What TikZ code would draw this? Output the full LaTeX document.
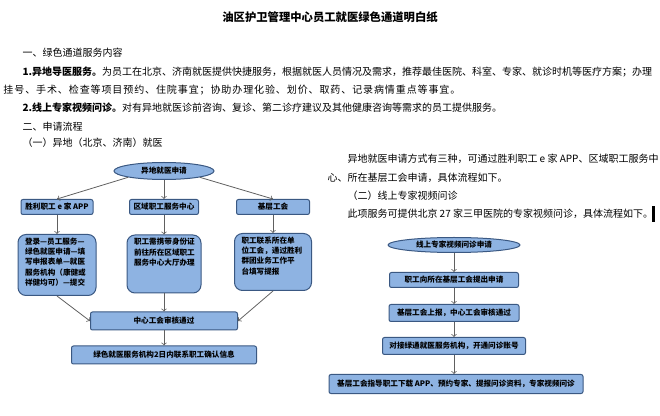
\documentclass[tikz,border=0pt]{standalone}
\usepackage{fontspec}
\setmainfont{Noto Sans CJK SC}
\newfontfamily\widecjk{Noto Sans CJK SC}[LetterSpace=9]
\usetikzlibrary{shapes.geometric}

\definecolor{boxfill}{RGB}{142,179,226}
\definecolor{boxline}{RGB}{58,88,130}
\definecolor{arrowgray}{RGB}{96,96,96}

\newcommand{\cellbox}[3]{\parbox[c][#2][t]{#1}{\raggedright #3}}

\tikzset{every picture/.style={line width=0.75pt}}
\tikzset{
	bodytext/.style={anchor=west, inner sep=0pt, font=\fontsize{7.5pt}{9pt}\selectfont},
	flowbox/.style={draw=boxline, fill=boxfill, rounded corners=1.5pt, inner sep=0pt,
		font=\fontsize{5.7pt}{7.7pt}\selectfont\bfseries},
	roundbox/.style={flowbox, rounded corners=6pt, inner xsep=5.25pt, inner ysep=2.5pt},
	flowell/.style={ellipse, draw=boxline, fill=boxfill, inner sep=0pt,
		font=\fontsize{5.7pt}{7.7pt}\selectfont\bfseries},
	flowarrow/.style={draw=arrowgray, line width=0.6pt, ->}
}

\begin{document}
\begin{tikzpicture}[x=0.75pt,y=0.75pt,yscale=-1,xscale=1]
	\useasboundingbox (0,0) rectangle (660,416);

	% Text Node
	\node[font=\fontsize{8.5pt}{10pt}\selectfont\bfseries, inner sep=0pt] (title) at (330,17) {油区护卫管理中心员工就医绿色通道明白纸};
	% Text Node
	\node[bodytext] (headA) at (22,53) {一、绿色通道服务内容};
	% Text Node
	\node[bodytext] (parA) at (22,72) {\textbf{1.异地导医服务。}为员工在北京、济南就医提供快捷服务，根据就医人员情况及需求，推荐最佳医院、科室、专家、就诊时机等医疗方案；办理};
	% Text Node
	\node[bodytext] (parB) at (3,90) {\widecjk 挂号、手术、检查等项目预约、住院事宜；协助办理化验、划价、取药、记录病情重点等事宜。};
	% Text Node
	\node[bodytext] (parC) at (22,108) {\textbf{2.线上专家视频问诊。}对有异地就医诊前咨询、复诊、第二诊疗建议及其他健康咨询等需求的员工提供服务。};
	% Text Node
	\node[bodytext] (headB) at (22,127) {二、申请流程};
	% Text Node
	\node[bodytext] (headC) at (22,143) {（一）异地（北京、济南）就医};

	% Text Node
	\node[bodytext] (noteA) at (347,159) {异地就医申请方式有三种，可通过胜利职工 e 家 APP、区域职工服务中};
	% Text Node
	\node[bodytext] (noteB) at (327,178) {心、所在基层工会申请，具体流程如下。};
	% Text Node
	\node[bodytext] (headD) at (347,196) {（二）线上专家视频问诊};
	% Text Node
	\node[bodytext] (noteC) at (347,214) {此项服务可提供北京 27 家三甲医院的专家视频问诊，具体流程如下。};
	%Shape: Rectangle (cursor)
	\fill (652,206) rectangle (654.5,222);

	%Flowchart: left
	\node[flowell, minimum width=75pt, minimum height=12.75pt] (apply) at (164,171) {异地就医申请};
	\node[flowbox, minimum width=54pt, minimum height=11.25pt] (app) at (57,207) {胜利职工 e 家 APP};
	\node[flowbox, minimum width=51.75pt, minimum height=11.25pt] (hall) at (164,207) {区域职工服务中心};
	\node[flowbox, minimum width=54.75pt, minimum height=11.25pt] (union) at (273,207) {基层工会};
	\node[roundbox] (appsteps) at (57,265) {\cellbox{48pt}{40.75pt}{登录—员工服务—\\绿色就医申请—填\\写申报表单—就医\\服务机构（康健或\\祥健均可）—提交}};
	\node[roundbox] (hallsteps) at (164,264) {\cellbox{45pt}{38.5pt}{职工需携带身份证\\前往所在区域职工\\服务中心大厅办理}};
	\node[roundbox] (unionsteps) at (273,262) {\cellbox{47.25pt}{37.75pt}{职工联系所在单\\位工会，通过胜利\\群团业务工作平\\台填写提报}};
	\node[flowbox, minimum width=110.25pt, minimum height=13.5pt] (check) at (164,321) {中心工会审核通过};
	\node[flowbox, minimum width=138.75pt, minimum height=13.5pt] (contact) at (164,355) {绿色就医服务机构2日内联系职工确认信息};

	%Straight Lines
	\draw[flowarrow] (apply.190) -- (app.north);
	\draw[flowarrow] (apply.south) -- (hall.north);
	\draw[flowarrow] (apply.-10) -- (union.north);
	\draw[flowarrow] (app.south) -- (appsteps.north);
	\draw[flowarrow] (hall.south) -- (hallsteps.north);
	\draw[flowarrow] (union.south) -- (unionsteps.north);
	\draw[flowarrow] (appsteps.south) -- (check.west);
	\draw[flowarrow] (hallsteps.south) -- (check.north);
	\draw[flowarrow] (unionsteps.south) -- (check.east);
	\draw[flowarrow] (check.south) -- (contact.north);

	%Flowchart: right
	\node[flowell, minimum width=99pt, minimum height=11.25pt] (video) at (454,245) {线上专家视频问诊申请};
	\node[flowbox, minimum width=96.75pt, minimum height=11.25pt] (request) at (454,280) {职工向所在基层工会提出申请};
	\node[flowbox, minimum width=97.5pt, minimum height=12.75pt] (report) at (454,313) {基层工会上报，中心工会审核通过};
	\node[flowbox, minimum width=107.25pt, minimum height=12.75pt] (account) at (454,346) {对接绿通就医服务机构，开通问诊账号};
	\node[flowbox, minimum width=190.5pt, minimum height=14.25pt] (guide) at (456,384) {基层工会指导职工下载 APP、预约专家、提报问诊资料，专家视频问诊};

	%Straight Lines
	\draw[flowarrow] (video.south) -- (request.north);
	\draw[flowarrow] (request.south) -- (report.north);
	\draw[flowarrow] (report.south) -- (account.north);
	\draw[flowarrow] (account.south) -- (account.south |- guide.north);

\end{tikzpicture}
\end{document}
